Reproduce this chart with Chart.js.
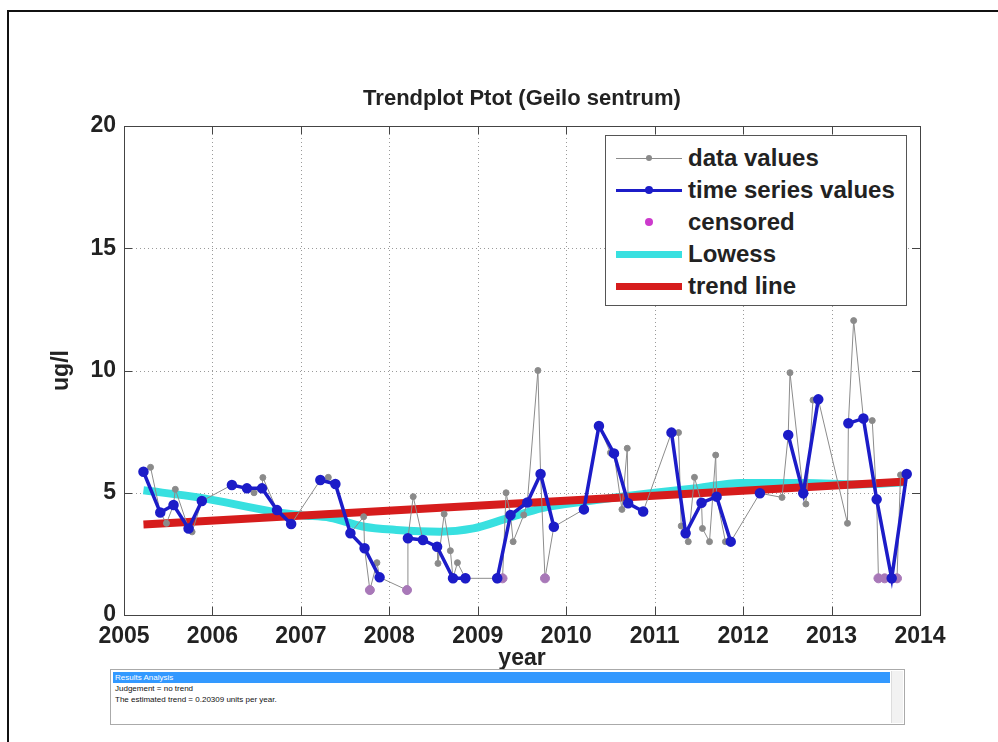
<!DOCTYPE html>
<html lang="en">
<head>
    <meta charset="UTF-8">
    <title>Trendplot Ptot (Geilo sentrum)</title>
    <script src="https://cdn.jsdelivr.net/npm/chart.js"></script>
    <style>
        * { margin: 0; padding: 0; box-sizing: border-box; }
        body { width: 998px; height: 742px; background: #fff; position: relative; overflow: hidden;
               font-family: "Liberation Sans", Arial, sans-serif; }
        #frame { position: absolute; left: 7px; top: 10px; width: 1000px; height: 740px;
                 border-left: 2px solid #111; border-top: 2px solid #111; }
        #chart { position: absolute; left: 0; top: 0; }
        #title { position: absolute; top: 85px; left: 222px; width: 600px; text-align: center;
                 font-weight: bold; font-size: 22px; color: #222; }
        #legend { position: absolute; left: 605px; top: 135px; width: 302px; height: 171px;
                  background: #fff; border: 1px solid #555; }
        .row { position: absolute; left: 0; height: 30px; width: 100%; }
        .sym { position: absolute; left: 10px; width: 66px; top: 15px; }
        .dot { position: absolute; border-radius: 50%; }
        .lbl { position: absolute; left: 82px; top: 0; line-height: 30px; font-weight: bold;
               font-size: 24px; color: #222; white-space: nowrap; }
        #results { position: absolute; left: 110px; top: 669px; width: 795px; height: 56px;
                   border: 1px solid #aaa; background: #fff; font-size: 8px; color: #111; }
        #results .hdr { background: #3399ff; color: #fff; height: 11px; line-height: 11px;
                        margin: 2px 14px 0 2px; padding-left: 2px; }
        #results .ln { padding-left: 4px; line-height: 11px; }
        #results .sb { position: absolute; right: 1px; top: 1px; bottom: 1px; width: 12px;
                       background: #f2f2f2; border-left: 1px solid #ddd; }
    </style>
</head>
<body>
    <div id="frame"></div>
    <canvas id="chart" width="998" height="742"></canvas>
    <div id="title">Trendplot Ptot (Geilo sentrum)</div>
    <div id="legend"></div>
    <div id="results">
        <div class="hdr">Results Analysis</div>
        <div class="ln">Judgement = no trend</div>
        <div class="ln">The estimated trend = 0.20309 units per year.</div>
        <div class="sb"></div>
    </div>

    <script>
        // measured values (all samples, grey)
        const dataYears = [2005.22, 2005.30, 2005.41, 2005.48, 2005.56, 2005.58, 2005.73, 2005.77, 2005.88,
            2006.22, 2006.39, 2006.47, 2006.56, 2006.57, 2006.73, 2006.89,
            2007.22, 2007.31, 2007.39, 2007.56, 2007.71, 2007.72, 2007.78, 2007.86, 2007.89,
            2008.20, 2008.21, 2008.27, 2008.38, 2008.54, 2008.55, 2008.62, 2008.69, 2008.72, 2008.77, 2008.86,
            2009.22, 2009.28, 2009.32, 2009.37, 2009.40, 2009.52, 2009.56, 2009.68, 2009.71, 2009.76, 2009.86,
            2010.20, 2010.37, 2010.50, 2010.54, 2010.63, 2010.69, 2010.70, 2010.87,
            2011.19, 2011.27, 2011.30, 2011.35, 2011.38, 2011.45, 2011.53, 2011.54, 2011.62, 2011.69, 2011.70, 2011.80, 2011.86,
            2012.19, 2012.44, 2012.51, 2012.53, 2012.68, 2012.71, 2012.79, 2012.85,
            2013.18, 2013.19, 2013.25, 2013.36, 2013.46, 2013.51, 2013.53, 2013.60, 2013.68, 2013.74, 2013.78, 2013.85];
        const dataValues = [5.86, 6.04, 4.19, 3.75, 4.50, 5.14, 3.54, 3.40, 4.66,
            5.32, 5.18, 5.00, 5.18, 5.62, 4.29, 3.72,
            5.52, 5.63, 5.36, 3.34, 4.02, 2.73, 1.02, 2.14, 1.54,
            1.02, 3.14, 4.84, 3.07, 2.79, 2.11, 4.13, 2.63, 1.50, 2.14, 1.50,
            1.50, 1.50, 5.00, 4.09, 3.00, 4.09, 4.60, 10.00, 5.77, 1.50, 3.61,
            4.32, 7.73, 6.64, 6.61, 4.32, 6.82, 4.57, 4.23,
            7.46, 7.46, 3.64, 3.34, 3.00, 5.63, 4.59, 3.54, 3.00, 6.54, 4.84, 3.00, 3.00,
            4.98, 4.81, 7.36, 9.91, 4.98, 4.54, 8.79, 8.82,
            3.75, 7.84, 12.04, 8.04, 7.95, 4.73, 1.50, 1.50, 1.50, 1.50, 5.73, 5.77];

        // time series values (blue), null = gap between seasons
        const seriesYears = [2005.22, 2005.41, 2005.56, 2005.73, 2005.88, 2006.05,
            2006.22, 2006.39, 2006.56, 2006.73, 2006.89, 2007.05,
            2007.22, 2007.39, 2007.56, 2007.72, 2007.89, 2008.05,
            2008.21, 2008.38, 2008.54, 2008.72, 2008.86, 2009.05,
            2009.22, 2009.37, 2009.56, 2009.71, 2009.86, 2010.05,
            2010.20, 2010.37, 2010.54, 2010.70, 2010.87, 2011.05,
            2011.19, 2011.35, 2011.53, 2011.70, 2011.86, 2012.05,
            2012.19, 2012.35,
            2012.51, 2012.68, 2012.85, 2013.05,
            2013.19, 2013.36, 2013.51, 2013.68, 2013.85];
        const seriesValues = [5.86, 4.19, 4.50, 3.54, 4.66, null,
            5.32, 5.18, 5.18, 4.29, 3.72, null,
            5.52, 5.36, 3.34, 2.73, 1.54, null,
            3.14, 3.07, 2.79, 1.50, 1.50, null,
            1.50, 4.09, 4.60, 5.77, 3.61, null,
            4.32, 7.73, 6.61, 4.57, 4.23, null,
            7.46, 3.34, 4.59, 4.84, 3.00, null,
            4.98, null,
            7.36, 4.98, 8.82, null,
            7.84, 8.04, 4.73, 1.50, 5.77];

        // censored samples
        const censoredYears = [2007.78, 2008.20, 2008.86, 2009.22, 2009.28, 2009.76, 2013.53, 2013.60, 2013.68, 2013.74];
        const censoredValues = [1.02, 1.02, 1.50, 1.50, 1.50, 1.50, 1.50, 1.50, 1.50, 1.50];

        // Lowess smooth
        const lowessYears = [2005.22, 2005.86, 2006.65, 2007.0, 2007.33, 2007.7, 2008.08, 2008.57, 2008.95,
            2009.33, 2009.74, 2010.19, 2010.95, 2011.5, 2011.97, 2012.7, 2013.3, 2013.85];
        const lowessValues = [5.10, 4.80, 4.25, 4.08, 3.98, 3.62, 3.48, 3.41, 3.54,
            3.95, 4.38, 4.63, 4.98, 5.20, 5.40, 5.40, 5.34, 5.44];

        // trend line (Sen slope)
        const trendYears = [2005.22, 2013.85];
        const trendValues = [3.70, 5.46];

        const xTicks = [2005, 2006, 2007, 2008, 2009, 2010, 2011, 2012, 2013, 2014];
        const yTicks = [0, 5, 10, 15, 20];

        const pts = (xs, ys) => xs.map((x, i) => ({ x: x, y: ys[i] }));

        const fontFam = '"Liberation Sans", Arial, sans-serif';
        const tickFont = { family: fontFam, size: 23, weight: 'bold' };

        // MATLAB-style box, dotted grid and inward ticks
        const matlabAxes = {
            id: 'matlabAxes',
            beforeDatasetsDraw(chart) {
                const { ctx, chartArea: a, scales: { x, y } } = chart;
                ctx.save();
                ctx.strokeStyle = '#9a9a9a';
                ctx.lineWidth = 1;
                ctx.setLineDash([1, 3]);
                xTicks.slice(1, -1).forEach(t => {
                    const px = Math.round(x.getPixelForValue(t)) + 0.5;
                    ctx.beginPath(); ctx.moveTo(px, a.top); ctx.lineTo(px, a.bottom); ctx.stroke();
                });
                yTicks.slice(1, -1).forEach(t => {
                    const py = Math.round(y.getPixelForValue(t)) + 0.5;
                    ctx.beginPath(); ctx.moveTo(a.left, py); ctx.lineTo(a.right, py); ctx.stroke();
                });
                ctx.restore();
            },
            afterDatasetsDraw(chart) {
                const { ctx, chartArea: a, scales: { x, y } } = chart;
                ctx.save();
                ctx.strokeStyle = '#444';
                ctx.lineWidth = 1;
                ctx.strokeRect(a.left + 0.5, a.top + 0.5, a.right - a.left, a.bottom - a.top);
                const tl = 8;
                xTicks.forEach(t => {
                    const px = Math.round(x.getPixelForValue(t)) + 0.5;
                    ctx.beginPath();
                    ctx.moveTo(px, a.bottom); ctx.lineTo(px, a.bottom - tl);
                    ctx.moveTo(px, a.top); ctx.lineTo(px, a.top + tl);
                    ctx.stroke();
                });
                yTicks.forEach(t => {
                    const py = Math.round(y.getPixelForValue(t)) + 0.5;
                    ctx.beginPath();
                    ctx.moveTo(a.left, py); ctx.lineTo(a.left + tl, py);
                    ctx.moveTo(a.right, py); ctx.lineTo(a.right - tl, py);
                    ctx.stroke();
                });
                ctx.restore();
            }
        };

        const ctx = document.getElementById('chart').getContext('2d');
        const chart = new Chart(ctx, {
            type: 'line',
            data: {
                datasets: [
                    {
                        label: 'time series values',
                        data: pts(seriesYears, seriesValues),
                        borderColor: '#1c1cc8',
                        backgroundColor: '#1c1cc8',
                        borderWidth: 3.5,
                        pointRadius: 3.5,
                        spanGaps: false,
                        order: 0
                    },
                    {
                        label: 'censored',
                        data: pts(censoredYears, censoredValues),
                        showLine: false,
                        backgroundColor: '#a878b8',
                        borderColor: '#a878b8',
                        pointRadius: 4.5,
                        order: 1
                    },
                    {
                        label: 'data values',
                        data: pts(dataYears, dataValues),
                        borderColor: '#8c8c8c',
                        backgroundColor: '#8a8a8a',
                        borderWidth: 1,
                        pointRadius: 3,
                        order: 2
                    },
                    {
                        label: 'trend line',
                        data: pts(trendYears, trendValues),
                        borderColor: '#d61c1c',
                        borderWidth: 8,
                        pointRadius: 0,
                        order: 3
                    },
                    {
                        label: 'Lowess',
                        data: pts(lowessYears, lowessValues),
                        borderColor: '#38e0e0',
                        borderWidth: 8,
                        pointRadius: 0,
                        cubicInterpolationMode: 'monotone',
                        order: 4
                    }
                ]
            },
            options: {
                responsive: false,
                animation: false,
                events: [],
                layout: { padding: { top: 126, right: 78, left: 0, bottom: 0 } },
                plugins: {
                    legend: { display: false },
                    title: { display: false },
                    tooltip: { enabled: false }
                },
                scales: {
                    x: {
                        type: 'linear',
                        min: 2005,
                        max: 2014,
                        afterBuildTicks: s => { s.ticks = xTicks.map(v => ({ value: v })); },
                        ticks: { font: tickFont, color: '#222', padding: 8, maxRotation: 0, callback: v => String(v) },
                        grid: { display: false, drawTicks: false },
                        border: { display: false },
                        title: { display: true, text: 'year', color: '#222',
                                 font: { family: fontFam, size: 23, weight: 'bold' }, padding: { bottom: 70 } },
                        afterFit: s => { s.height = 127; }
                    },
                    y: {
                        type: 'linear',
                        min: 0,
                        max: 20,
                        afterBuildTicks: s => { s.ticks = yTicks.map(v => ({ value: v })); },
                        ticks: { font: tickFont, color: '#222', padding: 8, callback: v => String(v) },
                        grid: { display: false, drawTicks: false },
                        border: { display: false },
                        title: { display: true, text: 'ug/l', color: '#222',
                                 font: { family: fontFam, size: 23, weight: 'bold' }, padding: { top: 48 } },
                        afterFit: s => { s.width = 124; }
                    }
                }
            },
            plugins: [matlabAxes]
        });

        // legend drawn as html on top of the axes
        const legendItems = [
            { text: 'data values', line: '#8c8c8c', lw: 1, dot: '#8a8a8a', r: 3 },
            { text: 'time series values', line: '#1c1cc8', lw: 3, dot: '#1c1cc8', r: 4 },
            { text: 'censored', line: null, lw: 0, dot: '#cc3acc', r: 4 },
            { text: 'Lowess', line: '#38e0e0', lw: 7, dot: null, r: 0 },
            { text: 'trend line', line: '#d61c1c', lw: 7, dot: null, r: 0 }
        ];
        const legend = document.getElementById('legend');
        legendItems.forEach((it, i) => {
            const row = document.createElement('div');
            row.className = 'row';
            row.style.top = (7 + i * 32) + 'px';
            let html = '<div class="sym">';
            if (it.line) {
                html += '<div style="position:absolute;left:0;width:66px;top:' + (-it.lw / 2) + 'px;height:' +
                        it.lw + 'px;background:' + it.line + '"></div>';
            }
            if (it.dot) {
                html += '<div class="dot" style="left:' + (33 - it.r) + 'px;top:' + (-it.r) + 'px;width:' +
                        (2 * it.r) + 'px;height:' + (2 * it.r) + 'px;background:' + it.dot + '"></div>';
            }
            html += '</div><div class="lbl">' + it.text + '</div>';
            row.innerHTML = html;
            legend.appendChild(row);
        });
    </script>
</body>
</html>
